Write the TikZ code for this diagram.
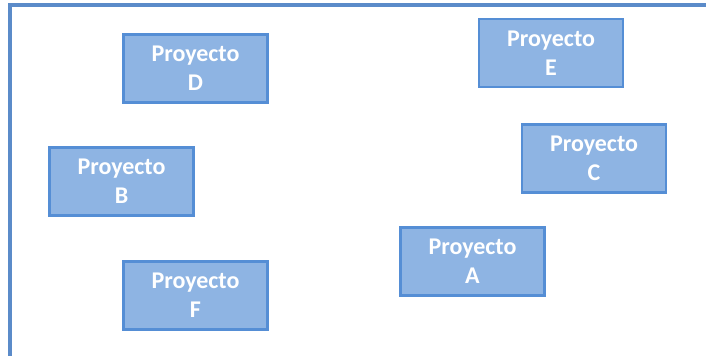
\documentclass[tikz,border=0pt]{standalone}
\usepackage{fontspec}
\setmainfont{Carlito}
\definecolor{boxfill}{HTML}{8EB4E3}
\definecolor{boxline}{HTML}{558ED5}
\definecolor{frameline}{HTML}{5B8BC9}

\begin{document}
\begin{tikzpicture}[x=0.75pt, y=-0.75pt,
  proyecto/.style={draw=boxline, line width=2pt, fill=boxfill, text=white, font=\fontsize{18}{22}\selectfont\bfseries, align=center, minimum width=108pt, minimum height=51pt, inner sep=0pt}]

\useasboundingbox (0,0) rectangle (706,356);
\clip (0,0) rectangle (706,356);
\draw[frameline, line width=2.6pt] (10,5) rectangle (740,390);

\node[proyecto] (D) at (195.5, 68.5) {Proyecto\\D};
\node[proyecto] (E) at (551, 53) {Proyecto\\E};
\node[proyecto] (B) at (121.5, 181.5) {Proyecto\\B};
\node[proyecto] (C) at (594, 158.5) {Proyecto\\C};
\node[proyecto] (A) at (472.5, 261.5) {Proyecto\\A};
\node[proyecto] (F) at (195.5, 295.5) {Proyecto\\F};

\end{tikzpicture}
\end{document}
